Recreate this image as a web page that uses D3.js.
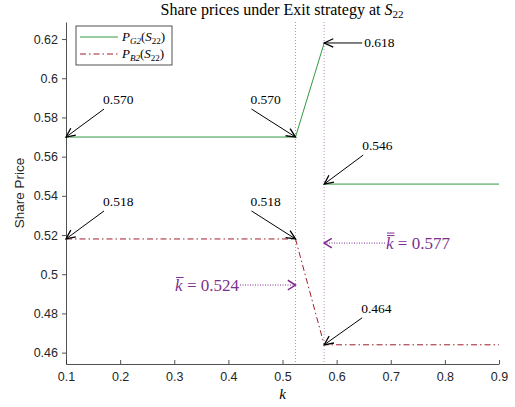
<!DOCTYPE html>
<html>
<head>
<meta charset="utf-8">
<script src="https://cdn.jsdelivr.net/npm/d3@7"></script>
<style>
  html, body { margin: 0; padding: 0; background: #fff; }
  svg { display: block; }
</style>
</head>
<body>
<svg id="chart" width="515" height="407"></svg>
<script>
// Good-type share price P_G2(S22); null marks the jump at k = 0.577
const kG2 = [0.1, 0.524, 0.577, null, 0.577, 0.9];
const pG2 = [0.570, 0.570, 0.618, null, 0.546, 0.546];
// Bad-type share price P_B2(S22)
const kB2 = [0.1, 0.524, 0.577, 0.9];
const pB2 = [0.518, 0.518, 0.464, 0.464];

// thresholds
const kBar = 0.524;
const kBarBar = 0.577;

// axis ticks
const xTicks = [0.1, 0.2, 0.3, 0.4, 0.5, 0.6, 0.7, 0.8, 0.9];
const yTicks = [0.46, 0.48, 0.5, 0.52, 0.54, 0.56, 0.58, 0.6, 0.62];
const xTickLabels = ["0.1", "0.2", "0.3", "0.4", "0.5", "0.6", "0.7", "0.8", "0.9"];
const yTickLabels = ["0.46", "0.48", "0.5", "0.52", "0.54", "0.56", "0.58", "0.6", "0.62"];

// value callouts: point (k, v), label offset in px
const callouts = [
  { k: 0.1,   v: 0.570, text: "0.570", dx: 38,  dy: -28 },
  { k: 0.524, v: 0.570, text: "0.570", dx: -44, dy: -28 },
  { k: 0.1,   v: 0.518, text: "0.518", dx: 38,  dy: -28 },
  { k: 0.524, v: 0.518, text: "0.518", dx: -44, dy: -28 },
  { k: 0.577, v: 0.618, text: "0.618", dx: 38,  dy: 0 },
  { k: 0.577, v: 0.546, text: "0.546", dx: 39,  dy: -29 },
  { k: 0.577, v: 0.464, text: "0.464", dx: 38,  dy: -27 }
];

const W = 515, H = 407;
const svg = d3.select("#chart");
svg.append("rect").attr("width", W).attr("height", H).attr("fill", "#fff");

const x = d3.scaleLinear().domain([0.1, 0.9]).range([66, 499]);
const y = d3.scaleLinear().domain([0.4542, 0.6287]).range([364, 22]);

const axisColor = "#262626";
const green = "#2f9a40";
const red = "#9e1f2a";
const purple = "#7e2f8e";
const serif = "'Liberation Serif', 'DejaVu Serif', serif";
const sans = "'Liberation Sans', Arial, sans-serif";

// title
const title = svg.append("text")
  .attr("x", 282).attr("y", 15)
  .attr("text-anchor", "middle")
  .attr("font-family", serif)
  .attr("font-size", 16).attr("fill", "#000");
title.append("tspan").text("Share prices under Exit strategy at ");
title.append("tspan").attr("font-style", "italic").text("S");
title.append("tspan").attr("font-size", 11).attr("dy", 3).text("22");

// threshold lines
[kBar, kBarBar].forEach(k => {
  svg.append("line")
    .attr("x1", x(k)).attr("x2", x(k))
    .attr("y1", y.range()[1]).attr("y2", y.range()[0])
    .attr("stroke", purple).attr("stroke-opacity", 0.55)
    .attr("stroke-width", 1).attr("stroke-dasharray", "1,2");
});

// curves
const line = d3.line()
  .defined(d => d[0] !== null && d[1] !== null)
  .x(d => x(d[0])).y(d => y(d[1]));

svg.append("path").datum(kG2.map((k, i) => [k, pG2[i]]))
  .attr("d", line).attr("fill", "none")
  .attr("stroke", green).attr("stroke-width", 1);

svg.append("path").datum(kB2.map((k, i) => [k, pB2[i]]))
  .attr("d", line).attr("fill", "none")
  .attr("stroke", red).attr("stroke-width", 1)
  .attr("stroke-dasharray", "6,3,1.5,3");

// axes
const yAxis = d3.axisLeft(y).tickValues(yTicks)
  .tickFormat((d, i) => yTickLabels[i]).tickSizeInner(4).tickSizeOuter(0).tickPadding(4);
const xAxis = d3.axisBottom(x).tickValues(xTicks)
  .tickFormat((d, i) => xTickLabels[i]).tickSizeInner(-4).tickSizeOuter(0).tickPadding(8);

const gy = svg.append("g").attr("transform", `translate(${x.range()[0]},0)`).call(yAxis);
const gx = svg.append("g").attr("transform", `translate(0,${y.range()[0]})`).call(xAxis);
[gx, gy].forEach(g => {
  g.select(".domain").attr("stroke", axisColor).attr("stroke-width", 0.8);
  g.selectAll(".tick line").attr("stroke", axisColor).attr("stroke-width", 0.8);
  g.selectAll(".tick text").attr("fill", axisColor)
    .attr("font-family", sans).attr("font-size", 12.5);
});

// axis labels
svg.append("text")
  .attr("transform", `translate(24,${(y.range()[0] + y.range()[1]) / 2}) rotate(-90)`)
  .attr("text-anchor", "middle")
  .attr("font-family", sans)
  .attr("font-size", 13.5).attr("fill", axisColor).text("Share Price");
svg.append("text")
  .attr("x", (x.range()[0] + x.range()[1]) / 2).attr("y", 399)
  .attr("text-anchor", "middle")
  .attr("font-family", serif).attr("font-style", "italic")
  .attr("font-size", 15).attr("fill", "#000").text("k");

// arrow helper: shaft from tail to head, open V head at head
function arrow(x1, y1, x2, y2, color, opts) {
  const o = Object.assign({ len: 10, ang: 25, w: 1, hw: 1.3, dash: null }, opts || {});
  const g = svg.append("g");
  g.append("line").attr("x1", x1).attr("y1", y1).attr("x2", x2).attr("y2", y2)
    .attr("stroke", color).attr("stroke-width", o.w)
    .attr("stroke-dasharray", o.dash);
  const a = Math.atan2(y2 - y1, x2 - x1);
  const r = o.ang * Math.PI / 180;
  const p1 = [x2 - o.len * Math.cos(a - r), y2 - o.len * Math.sin(a - r)];
  const p2 = [x2 - o.len * Math.cos(a + r), y2 - o.len * Math.sin(a + r)];
  g.append("path")
    .attr("d", `M${p1[0]},${p1[1]}L${x2},${y2}L${p2[0]},${p2[1]}`)
    .attr("fill", "none").attr("stroke", color).attr("stroke-width", o.hw);
}

// value callouts
callouts.forEach(c => {
  const hx = x(c.k), hy = y(c.v);
  const tx = hx + c.dx, ty = hy + c.dy;
  arrow(tx, ty, hx, hy, "#000");
  svg.append("text")
    .attr("x", c.dy === 0 ? tx + 2 : tx - 1)
    .attr("y", c.dy === 0 ? ty + 4.5 : ty - 5)
    .attr("font-family", serif)
    .attr("font-size", 13.5).attr("fill", "#000").text(c.text);
});

// threshold labels
function kLabel(xPos, yPos, anchor, bars, value) {
  const t = svg.append("text")
    .attr("x", xPos).attr("y", yPos)
    .attr("text-anchor", anchor)
    .attr("font-family", serif)
    .attr("font-size", 17).attr("fill", purple);
  const kt = t.append("tspan").attr("font-style", "italic").text("k");
  t.append("tspan").text(" = " + value);
  const bb = kt.node().getBBox();
  for (let i = 0; i < bars; i++) {
    svg.append("line")
      .attr("x1", bb.x + 1).attr("x2", bb.x + bb.width + 0.5)
      .attr("y1", bb.y + 2 - i * 2.5).attr("y2", bb.y + 2 - i * 2.5)
      .attr("stroke", purple).attr("stroke-width", 1);
  }
}

const yKb = y(0.4945);
arrow(240, yKb, x(kBar), yKb, purple, { dash: "1,1.5", len: 9, ang: 32, hw: 1.5 });
kLabel(239, yKb + 5.5, "end", 1, "0.524");

const yKbb = y(0.5159);
arrow(385, yKbb, x(kBarBar), yKbb, purple, { dash: "1,1.5", len: 9, ang: 32, hw: 1.5 });
kLabel(386, yKbb + 5.5, "start", 2, "0.577");

// legend
const lg = svg.append("g");
lg.append("rect").attr("x", 76).attr("y", 26).attr("width", 96).attr("height", 39)
  .attr("fill", "#fff").attr("stroke", axisColor).attr("stroke-width", 0.8);
const legendItems = [
  { sub: "G2", color: green, dash: null, yy: 37 },
  { sub: "B2", color: red, dash: "6,3,1.5,3", yy: 54 }
];
legendItems.forEach(it => {
  lg.append("line").attr("x1", 80).attr("x2", 118).attr("y1", it.yy).attr("y2", it.yy)
    .attr("stroke", it.color).attr("stroke-width", 1).attr("stroke-dasharray", it.dash);
  const t = lg.append("text").attr("x", 122).attr("y", it.yy + 4)
    .attr("font-family", serif)
    .attr("font-size", 13).attr("fill", "#000");
  t.append("tspan").attr("font-style", "italic").text("P");
  t.append("tspan").attr("font-style", "italic").attr("font-size", 9).attr("dy", 2.5).text(it.sub);
  t.append("tspan").attr("dy", -2.5).text("(");
  t.append("tspan").attr("font-style", "italic").text("S");
  t.append("tspan").attr("font-size", 9).attr("dy", 2.5).text("22");
  t.append("tspan").attr("dy", -2.5).text(")");
});
</script>
</body>
</html>
